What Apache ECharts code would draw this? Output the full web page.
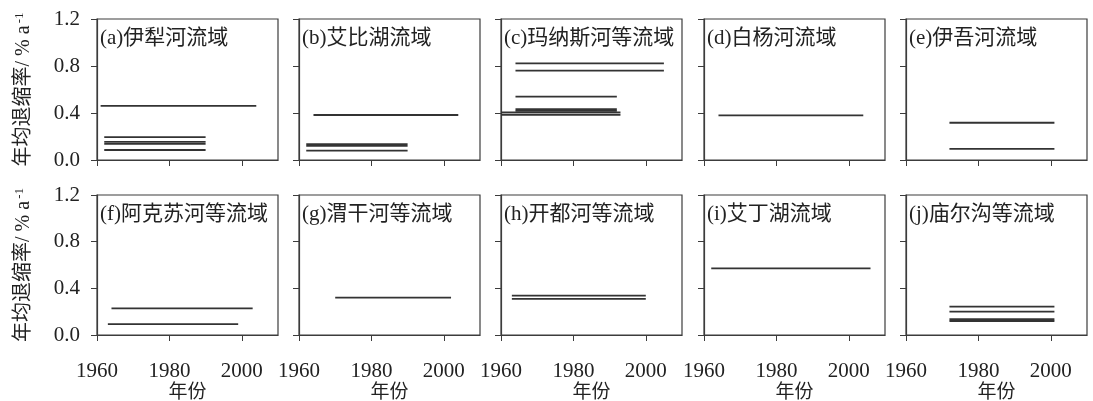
<!DOCTYPE html>
<html>
<head>
<meta charset="utf-8">
<script src="https://cdn.jsdelivr.net/npm/echarts@6/dist/echarts.min.js"></script>
<style>
  html, body { margin: 0; padding: 0; background: #ffffff; }
  #chart { width: 1093px; height: 401px; }
</style>
</head>
<body>
<div id="chart"></div>
<script>
// Panel titles (basins), in reading order
const panelTitles = [
  '(a)伊犁河流域', '(b)艾比湖流域', '(c)玛纳斯河等流域', '(d)白杨河流域', '(e)伊吾河流域',
  '(f)阿克苏河等流域', '(g)渭干河等流域', '(h)开都河等流域', '(i)艾丁湖流域', '(j)庙尔沟等流域'
];

// Each segment: [start year, end year, mean annual retreat rate (% a^-1)]
const segA = [[1961, 2004, 0.46], [1962, 1990, 0.195], [1962, 1990, 0.155], [1962, 1990, 0.137], [1962, 1990, 0.085]];
const segB = [[1964, 2004, 0.383], [1962, 1990, 0.135], [1962, 1990, 0.12], [1962, 1990, 0.08]];
const segC = [[1964, 2005, 0.823], [1964, 2005, 0.76], [1964, 1992, 0.54],
              [1964, 1992, 0.432], [1964, 1992, 0.418], [1960, 1993, 0.405], [1960, 1993, 0.385]];
const segD = [[1964, 2004, 0.38]];
const segE = [[1972, 2001, 0.317], [1972, 2001, 0.094]];
const segF = [[1964, 2003, 0.229], [1963, 1999, 0.094]];
const segG = [[1970, 2002, 0.32]];
const segH = [[1963, 2000, 0.337], [1963, 2000, 0.309]];
const segI = [[1962, 2006, 0.571]];
const segJ = [[1972, 2001, 0.243], [1972, 2001, 0.2], [1972, 2001, 0.135], [1972, 2001, 0.12]];
const panelSegments = [segA, segB, segC, segD, segE, segF, segG, segH, segI, segJ];

// Axis ranges and tick values
const yearMin = 1960, yearMax = 2010, yearStep = 20;
const yearTicks = [1960, 1980, 2000];
const rateMin = 0, rateMax = 1.2, rateStep = 0.4;

const xAxisTitle = '年份';
const yAxisTitle = '年均退缩率/ % a{sup|-1}';

const serif = '"Liberation Serif", "Times New Roman", "Noto Sans CJK SC", serif';
const axisColor = '#3c3c3c';
const lineColor = '#333333';

const colLeft = [97, 299, 501, 704, 906];
const panelWidth = 181;
const rowTop = [19, 195];
const rowHeight = [141, 140];

const grids = [], xAxes = [], yAxes = [], series = [], titles = [];

panelSegments.forEach(function (segs, i) {
  const row = Math.floor(i / 5), col = i % 5;
  grids.push({
    left: colLeft[col], top: rowTop[row], width: panelWidth, height: rowHeight[row],
    outerBoundsMode: 'none', containLabel: false,
    show: true, borderColor: axisColor, borderWidth: 1.2, backgroundColor: 'transparent'
  });
  xAxes.push({
    gridIndex: i, type: 'value', min: yearMin, max: yearMax, interval: yearStep,
    axisLine: { show: true, lineStyle: { color: axisColor, width: 1.2 } },
    axisTick: { show: true, inside: false, length: 6, customValues: yearTicks, lineStyle: { color: axisColor } },
    axisLabel: { show: row === 1, customValues: yearTicks, margin: 26, color: '#222', fontFamily: serif, fontSize: 21,
                 formatter: function (v) { return String(v); } },
    splitLine: { show: false },
    name: row === 1 ? xAxisTitle : '', nameLocation: 'middle', nameGap: 49,
    nameTextStyle: { color: '#222', fontFamily: serif, fontSize: 19 }
  });
  yAxes.push({
    gridIndex: i, type: 'value', min: rateMin, max: rateMax, interval: rateStep,
    axisLine: { show: true, lineStyle: { color: axisColor, width: 1.2 } },
    axisTick: { show: true, inside: false, length: 6, lineStyle: { color: axisColor } },
    axisLabel: { show: col === 0, margin: 17, color: '#222', fontFamily: serif, fontSize: 21,
                 formatter: function (v) { return v.toFixed(1); } },
    splitLine: { show: false },
    name: col === 0 ? yAxisTitle : '', nameLocation: 'middle', nameGap: 62,
    nameTextStyle: { color: '#222', fontFamily: serif, fontSize: 20, lineHeight: 22,
      rich: { sup: { fontFamily: serif, fontSize: 13, verticalAlign: 'top', lineHeight: 22, padding: [0, 0, 10, 2] } } }
  });
  segs.forEach(function (s) {
    series.push({
      type: 'line', xAxisIndex: i, yAxisIndex: i, silent: true, symbol: 'none',
      lineStyle: { color: lineColor, width: 1.8 },
      data: [[s[0], s[2]], [s[1], s[2]]]
    });
  });
  titles.push({
    text: panelTitles[i], left: colLeft[col] + 3, top: rowTop[row] + 9, padding: 0,
    textStyle: { color: '#222', fontFamily: serif, fontSize: 21, fontWeight: 'normal' }
  });
});

const chart = echarts.init(document.getElementById('chart'), null, { renderer: 'canvas' });
chart.setOption({
  backgroundColor: '#ffffff',
  animation: false,
  title: titles,
  grid: grids,
  xAxis: xAxes,
  yAxis: yAxes,
  series: series
});
</script>
</body>
</html>
